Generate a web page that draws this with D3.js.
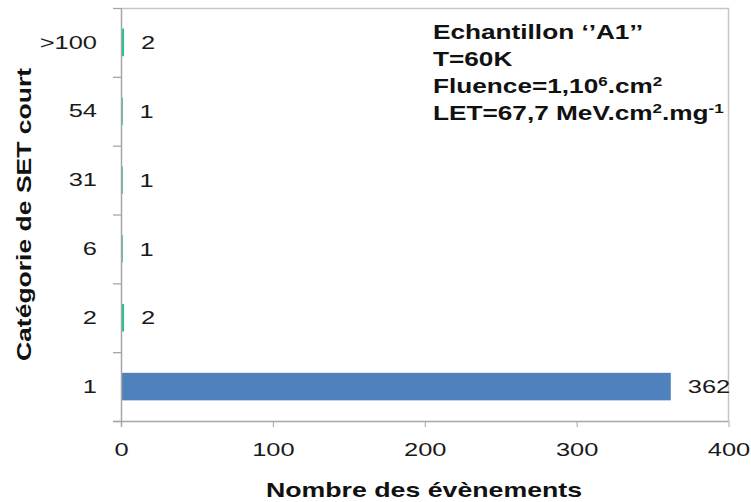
<!DOCTYPE html>
<html><head><meta charset="utf-8">
<script src="https://cdn.jsdelivr.net/npm/d3@7"></script>
<style>body{margin:0;background:#fff}svg{display:block}text{font-family:Arial,"Liberation Sans",sans-serif}</style>
</head><body><svg id="c" width="751" height="502"></svg>
<script>
const categories = ["1", "2", "6", "31", "54", ">100"];
const values = [362, 2, 1, 1, 1, 2];
const xTicks = [0, 100, 200, 300, 400];
const barColors = ["#4f81bd", "#1bc68e", "#1bc68e", "#1bc68e", "#1bc68e", "#1bc68e"];

const svg = d3.select("#c");
const L = 121, R = 728.5, T = 8, B = 421;
const S = 1.34, FS = 19;
const x = d3.scaleLinear().domain([0, 400]).range([L, R]);
const y = d3.scaleBand().domain(categories).range([B, T]).paddingInner(0.6).paddingOuter(0.3);
const yb = d3.scaleBand().domain(categories).range([B, T]);

// frame (top, right)
svg.append("path").attr("d", `M${L},${T+0.5}H${R}V${B}`).attr("fill","none").attr("stroke","#c6c6c6").attr("stroke-width",1.5);

// bars
svg.selectAll("rect.bar").data(categories).join("rect")
  .attr("x", x(0)).attr("y", d => y(d))
  .attr("width", (d,i) => Math.max(1.8, x(values[i]) - x(0)))
  .attr("height", y.bandwidth())
  .attr("fill", (d,i) => barColors[i]);

// value labels
svg.selectAll("text.val").data(categories).join("text")
  .attr("transform", (d,i) => `translate(${x(values[i]) + 17},${y(d) + y.bandwidth()/2}) scale(${S},1)`)
  .attr("dy", "0.35em").attr("font-size", FS).attr("fill", "#1a1a1a")
  .text((d,i) => values[i]);

// x axis
const xa = svg.append("g").attr("transform", `translate(0,${B})`)
  .call(d3.axisBottom(x).tickValues(xTicks).tickSize(6).tickPadding(16));
xa.select(".domain").attr("stroke", "#a6a6a6").attr("stroke-width", 1.5).attr("d", `M${L-8},0.5H${R}`);
xa.selectAll(".tick line").attr("stroke", "#a6a6a6");
xa.selectAll("text").attr("font-size", FS).attr("fill", "#1a1a1a").attr("font-family","Arial, 'Liberation Sans', sans-serif")
  .attr("transform", `scale(${S},1)`);

// y axis
const ya = svg.append("g").attr("transform", `translate(${L},0)`)
  .call(d3.axisLeft(yb).tickSize(0).tickPadding(24));
ya.select(".domain").attr("stroke", "#a6a6a6").attr("stroke-width", 1.5).attr("d", `M0.5,${T}V${B+6}`);
ya.selectAll("text").attr("font-size", FS).attr("fill", "#1a1a1a").attr("font-family","Arial, 'Liberation Sans', sans-serif")
  .attr("x", -24 / S).attr("transform", `scale(${S},1)`);
// boundary ticks between categories
const bounds = categories.map(c => yb(c)).concat([B]);
svg.selectAll("line.yt").data(bounds).join("line")
  .attr("x1", L-8).attr("x2", L).attr("y1", d => d+0.5).attr("y2", d => d+0.5)
  .attr("stroke", "#a6a6a6").attr("stroke-width", 1.3);

// axis titles
svg.append("text").attr("transform", `translate(424,490) scale(1.37,1)`).attr("dy","0.35em").attr("text-anchor","middle")
  .attr("font-size", 19.5).attr("font-weight","bold").attr("fill","#111").text("Nombre des évènements");
svg.append("text").attr("transform", `translate(24,${(T+B)/2}) rotate(-90) scale(1.36,1)`).attr("dy","0.35em").attr("text-anchor","middle")
  .attr("font-size", 19.5).attr("font-weight","bold").attr("fill","#111").text("Catégorie de SET court");

// annotation
const ag = svg.append("g").attr("transform", "translate(433,0) scale(1.31,1)");
const ann = ag.append("text").attr("font-size", 20).attr("font-weight","bold").attr("fill","#111");
ann.append("tspan").attr("x",0).attr("y",39).text("Echantillon ‘’A1’’");
ann.append("tspan").attr("x",0).attr("y",66).text("T=60K");
ann.append("tspan").attr("x",0).attr("y",93).text("Fluence=1,10");
ann.append("tspan").attr("font-size",13).attr("dy",-7).text("6");
ann.append("tspan").attr("dy",7).text(".cm");
ann.append("tspan").attr("font-size",13).attr("dy",-7).text("2");
ann.append("tspan").attr("x",0).attr("y",120).text("LET=67,7 MeV.cm");
ann.append("tspan").attr("font-size",13).attr("dy",-7).text("2");
ann.append("tspan").attr("dy",7).text(".mg");
ann.append("tspan").attr("font-size",13).attr("dy",-7).text("-1");
</script></body></html>
